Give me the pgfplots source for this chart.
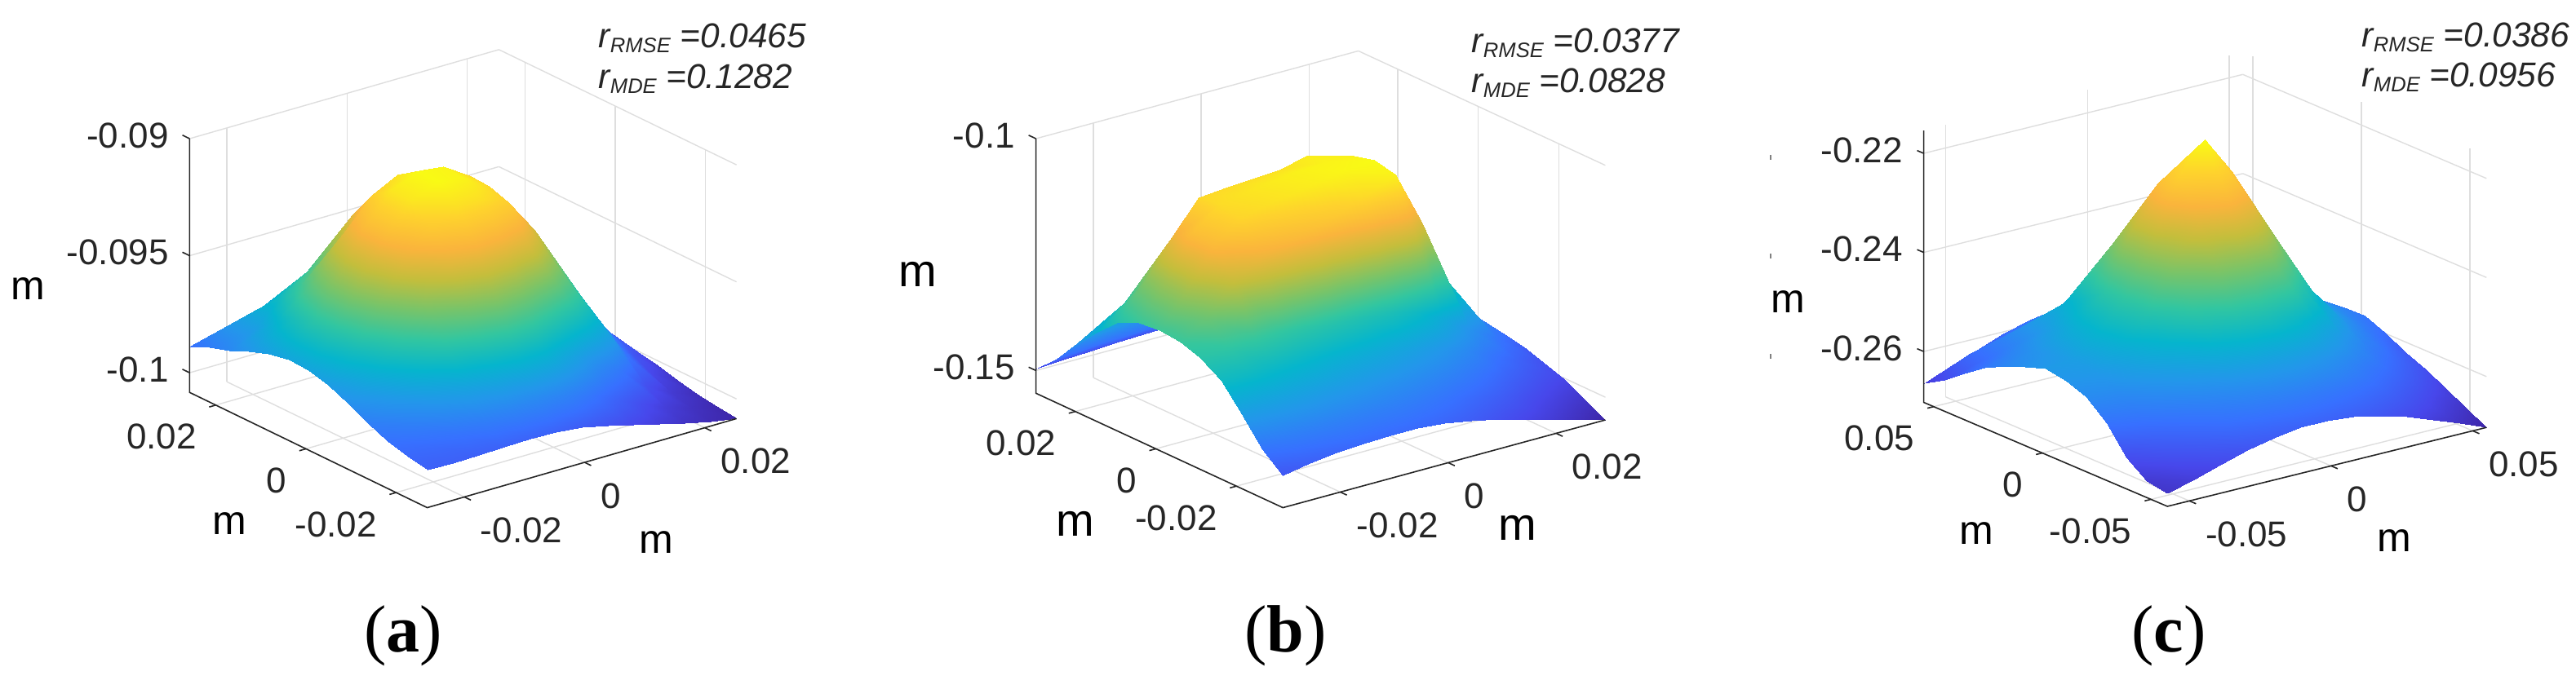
\documentclass[border=0pt]{standalone}
\usepackage{fontspec}
\setmainfont{Liberation Sans}
\newfontfamily\capfont{Liberation Serif}
\usepackage{pgfplots}
\pgfplotsset{compat=1.18}
\definecolor{tk}{HTML}{262626}
\pgfplotsset{
 panel/.style={
  colormap={par}{rgb255=(62,38,168) rgb255=(71,71,235) rgb255=(55,112,255) rgb255=(35,150,235) rgb255=(5,181,205) rgb255=(50,198,160) rgb255=(120,196,105) rgb255=(195,190,60) rgb255=(250,180,60) rgb255=(254,210,45) rgb255=(249,251,20)},
  clip=false, grid=major, major grid style={black!13,line width=.35pt},
  axis line style={draw=none}, tick style={draw=none}, major tick length=2pt, tick pos=left,
  xticklabel style={anchor=west,xshift=4.75pt,yshift=-10.25pt,inner sep=0pt,font=\fontsize{11}{12}\selectfont,text=tk},
  yticklabel style={anchor=east,xshift=-5.75pt,yshift=-9.75pt,inner sep=0pt,font=\fontsize{11}{12}\selectfont,text=tk},
  zticklabel style={anchor=east,xshift=-6.25pt,yshift=1pt,inner sep=0pt,font=\fontsize{11}{12}\selectfont,text=tk},
  scaled ticks=false,
 },
 srf/.style={surf,shader=interp,mesh/rows=13,mesh/cols=13,z buffer=reverse x seq},
}
\tikzset{
 rt/.style={anchor=base west,inner sep=0pt,font=\fontsize{10.6}{12}\selectfont\itshape},
 mt/.style={anchor=base,inner sep=0pt,text=black,font=\fontsize{12.5}{13}\selectfont},
 ct/.style={inner sep=0pt,text=black,font=\capfont\fontsize{20.5}{22}\selectfont},
 ax/.style={tk,line width=.4pt},
}
\newcommand\sub[1]{\raisebox{-1.5pt}{\fontsize{6.4}{7}\selectfont #1}}
\begin{document}
\begin{tikzpicture}
\useasboundingbox (0,0) rectangle (789.25pt,-211.25pt);
%% a
\begin{axis}[panel,at={(58.1pt,-155.65pt)},anchor=south west,
 x={(1841.5pt,530.6pt)},y={(-1381.3pt,670.5pt)},z={(0pt,7177.4pt)},
 xmin=-0.02618,xmax=0.02528,ymin=-0.0269,ymax=0.0258,zmin=-0.10084,zmax=-0.09,
 xtick={-0.02,0,0.02},ytick={-0.02,0,0.02},ztick={-0.1,-0.095,-0.09},
 xticklabels={-0.02,0,0.02},yticklabels={-0.02,0,0.02},zticklabels={-0.1,-0.095,-0.09}]
\addplot3[srf] table {
-0.02618 0.0258 -0.09887
-0.02189 0.0258 -0.09869
-0.01760 0.0258 -0.09840
-0.01332 0.0258 -0.09813
-0.00903 0.0258 -0.09792
-0.00474 0.0258 -0.09783
-0.00045 0.0258 -0.09795
0.00384 0.0258 -0.09829
0.00812 0.0258 -0.09876
0.01241 0.0258 -0.09928
0.01670 0.0258 -0.09973
0.02099 0.0258 -0.10005
0.02528 0.0258 -0.10032
-0.02618 0.02141 -0.09851
-0.02189 0.02141 -0.09770
-0.01760 0.02141 -0.09743
-0.01332 0.02141 -0.09713
-0.00903 0.02141 -0.09664
-0.00474 0.02141 -0.09639
-0.00045 0.02141 -0.09652
0.00384 0.02141 -0.09702
0.00812 0.02141 -0.09776
0.01241 0.02141 -0.09858
0.01670 0.02141 -0.09932
0.02099 0.02141 -0.09989
0.02528 0.02141 -0.10025
-0.02618 0.01702 -0.09822
-0.02189 0.01702 -0.09761
-0.01760 0.01702 -0.09654
-0.01332 0.01702 -0.09580
-0.00903 0.01702 -0.09498
-0.00474 0.01702 -0.09456
-0.00045 0.01702 -0.09469
0.00384 0.01702 -0.09534
0.00812 0.01702 -0.09641
0.01241 0.01702 -0.09761
0.01670 0.01702 -0.09872
0.02099 0.01702 -0.09960
0.02528 0.01702 -0.10014
-0.02618 0.01262 -0.09786
-0.02189 0.01262 -0.09695
-0.01760 0.01262 -0.09571
-0.01332 0.01262 -0.09474
-0.00903 0.01262 -0.09329
-0.00474 0.01262 -0.09277
-0.00045 0.01262 -0.09290
0.00384 0.01262 -0.09365
0.00812 0.01262 -0.09494
0.01241 0.01262 -0.09648
0.01670 0.01262 -0.09806
0.02099 0.01262 -0.09924
0.02528 0.01262 -0.10002
-0.02618 0.00823 -0.09756
-0.02189 0.00823 -0.09638
-0.01760 0.00823 -0.09480
-0.01332 0.00823 -0.09320
-0.00903 0.00823 -0.09202
-0.00474 0.00823 -0.09148
-0.00045 0.00823 -0.09159
0.00384 0.00823 -0.09245
0.00812 0.00823 -0.09378
0.01241 0.00823 -0.09562
0.01670 0.00823 -0.09747
0.02099 0.00823 -0.09890
0.02528 0.00823 -0.09989
-0.02618 0.00384 -0.09738
-0.02189 0.00384 -0.09603
-0.01760 0.00384 -0.09430
-0.01332 0.00384 -0.09259
-0.00903 0.00384 -0.09139
-0.00474 0.00384 -0.09092
-0.00045 0.00384 -0.09105
0.00384 0.00384 -0.09175
0.00812 0.00384 -0.09317
0.01241 0.00384 -0.09510
0.01670 0.00384 -0.09711
0.02099 0.00384 -0.09872
0.02528 0.00384 -0.09982
-0.02618 -0.00055 -0.09742
-0.02189 -0.00055 -0.09605
-0.01760 -0.00055 -0.09431
-0.01332 -0.00055 -0.09261
-0.00903 -0.00055 -0.09141
-0.00474 -0.00055 -0.09094
-0.00045 -0.00055 -0.09109
0.00384 -0.00055 -0.09177
0.00812 -0.00055 -0.09320
0.01241 -0.00055 -0.09514
0.01670 -0.00055 -0.09713
0.02099 -0.00055 -0.09876
0.02528 -0.00055 -0.09985
-0.02618 -0.00494 -0.09765
-0.02189 -0.00494 -0.09647
-0.01760 -0.00494 -0.09487
-0.01332 -0.00494 -0.09327
-0.00903 -0.00494 -0.09218
-0.00474 -0.00494 -0.09157
-0.00045 -0.00494 -0.09161
0.00384 -0.00494 -0.09205
0.00812 -0.00494 -0.09358
0.01241 -0.00494 -0.09569
0.01670 -0.00494 -0.09756
0.02099 -0.00494 -0.09899
0.02528 -0.00494 -0.10002
-0.02618 -0.00934 -0.09802
-0.02189 -0.00934 -0.09711
-0.01760 -0.00934 -0.09586
-0.01332 -0.00934 -0.09447
-0.00903 -0.00934 -0.09342
-0.00474 -0.00934 -0.09290
-0.00045 -0.00934 -0.09302
0.00384 -0.00934 -0.09349
0.00812 -0.00934 -0.09456
0.01241 -0.00934 -0.09627
0.01670 -0.00934 -0.09820
0.02099 -0.00934 -0.09941
0.02528 -0.00934 -0.10019
-0.02618 -0.01373 -0.09846
-0.02189 -0.01373 -0.09785
-0.01760 -0.01373 -0.09697
-0.01332 -0.01373 -0.09593
-0.00903 -0.01373 -0.09517
-0.00474 -0.01373 -0.09474
-0.00045 -0.01373 -0.09487
0.00384 -0.01373 -0.09551
0.00812 -0.01373 -0.09609
0.01241 -0.01373 -0.09699
0.01670 -0.01373 -0.09869
0.02099 -0.01373 -0.09984
0.02528 -0.01373 -0.10041
-0.02618 -0.01812 -0.09881
-0.02189 -0.01812 -0.09849
-0.01760 -0.01812 -0.09799
-0.01332 -0.01812 -0.09743
-0.00903 -0.01812 -0.09693
-0.00474 -0.01812 -0.09666
-0.00045 -0.01812 -0.09677
0.00384 -0.01812 -0.09729
0.00812 -0.01812 -0.09802
0.01241 -0.01812 -0.09860
0.01670 -0.01812 -0.09962
0.02099 -0.01812 -0.10021
0.02528 -0.01812 -0.10059
-0.02618 -0.02251 -0.09905
-0.02189 -0.02251 -0.09898
-0.01760 -0.02251 -0.09878
-0.01332 -0.02251 -0.09851
-0.00903 -0.02251 -0.09828
-0.00474 -0.02251 -0.09819
-0.00045 -0.02251 -0.09831
0.00384 -0.02251 -0.09863
0.00812 -0.02251 -0.09914
0.01241 -0.02251 -0.09966
0.01670 -0.02251 -0.10012
0.02099 -0.02251 -0.10046
0.02528 -0.02251 -0.10073
-0.02618 -0.0269 -0.09923
-0.02189 -0.0269 -0.09924
-0.01760 -0.0269 -0.09923
-0.01332 -0.0269 -0.09919
-0.00903 -0.0269 -0.09917
-0.00474 -0.0269 -0.09919
-0.00045 -0.0269 -0.09932
0.00384 -0.0269 -0.09955
0.00812 -0.0269 -0.09982
0.01241 -0.0269 -0.10012
0.01670 -0.0269 -0.10041
0.02099 -0.0269 -0.10064
0.02528 -0.0269 -0.10084
};
\draw[ax] (axis cs:-0.02618,0.0258,-0.09)--(axis cs:-0.02618,0.0258,-0.10084)--(axis cs:-0.02618,-0.0269,-0.10084)--(axis cs:0.02528,-0.0269,-0.10084);
\draw[ax] (axis cs:-0.02,-0.0269,-0.10084)--(axis cs:-0.02,-0.02835,-0.10084);
\draw[ax] (axis cs:0,-0.0269,-0.10084)--(axis cs:0,-0.02835,-0.10084);
\draw[ax] (axis cs:0.02,-0.0269,-0.10084)--(axis cs:0.02,-0.02835,-0.10084);
\draw[ax] (axis cs:-0.02618,-0.02,-0.10084)--(axis cs:-0.02728,-0.02,-0.10084);
\draw[ax] (axis cs:-0.02618,0,-0.10084)--(axis cs:-0.02728,0,-0.10084);
\draw[ax] (axis cs:-0.02618,0.02,-0.10084)--(axis cs:-0.02728,0.02,-0.10084);
\draw[ax] (axis cs:-0.02618,0.0258,-0.1)--(axis cs:-0.02618,0.0274,-0.1);
\draw[ax] (axis cs:-0.02618,0.0258,-0.095)--(axis cs:-0.02618,0.0274,-0.095);
\draw[ax] (axis cs:-0.02618,0.0258,-0.09)--(axis cs:-0.02618,0.0274,-0.09);
\end{axis}
%% b
\begin{axis}[panel,at={(317.4pt,-155.65pt)},anchor=south west,
 x={(1653.3pt,450.2pt)},y={(-1234.5pt,572.2pt)},z={(0pt,1422pt)},
 xmin=-0.03063,xmax=0.02912,ymin=-0.03154,ymax=0.02976,zmin=-0.1549,zmax=-0.1,
 xtick={-0.02,0,0.02},ytick={-0.02,0,0.02},ztick={-0.15,-0.1},
 xticklabels={-0.02,0,0.02},yticklabels={-0.02,0,0.02},zticklabels={-0.15,-0.1}]
\addplot3[srf] table {
-0.03063 0.02976 -0.14951
-0.02565 0.02976 -0.14923
-0.02067 0.02976 -0.14904
-0.01569 0.02976 -0.14876
-0.01071 0.02976 -0.14857
-0.00574 0.02976 -0.14828
-0.00076 0.02976 -0.14809
0.00422 0.02976 -0.14809
0.00920 0.02976 -0.14828
0.01418 0.02976 -0.14876
0.01916 0.02976 -0.14942
0.02414 0.02976 -0.15017
0.02912 0.02976 -0.15112
-0.03063 0.02465 -0.14545
-0.02565 0.02465 -0.14498
-0.02067 0.02465 -0.14450
-0.01569 0.02465 -0.14431
-0.01071 0.02465 -0.14403
-0.00574 0.02465 -0.14403
-0.00076 0.02465 -0.14403
0.00422 0.02465 -0.14431
0.00920 0.02465 -0.14469
0.01418 0.02465 -0.14592
0.01916 0.02465 -0.14734
0.02414 0.02465 -0.14847
0.02912 0.02465 -0.14970
-0.03063 0.01954 -0.13997
-0.02565 0.01954 -0.13836
-0.02067 0.01954 -0.13741
-0.01569 0.01954 -0.13647
-0.01071 0.01954 -0.13619
-0.00574 0.01954 -0.13600
-0.00076 0.01954 -0.13600
0.00422 0.01954 -0.13647
0.00920 0.01954 -0.13741
0.01418 0.01954 -0.14025
0.01916 0.01954 -0.14356
0.02414 0.01954 -0.14592
0.02912 0.01954 -0.14828
-0.03063 0.01444 -0.13543
-0.02565 0.01444 -0.13080
-0.02067 0.01444 -0.12560
-0.01569 0.01444 -0.12418
-0.01071 0.01444 -0.12324
-0.00574 0.01444 -0.12276
-0.00076 0.01444 -0.12229
0.00422 0.01444 -0.12276
0.00920 0.01444 -0.12418
0.01418 0.01444 -0.13032
0.01916 0.01444 -0.13741
0.02414 0.01444 -0.14308
0.02912 0.01444 -0.14734
-0.03063 0.00933 -0.13127
-0.02565 0.00933 -0.12418
-0.02067 0.00933 -0.11615
-0.01569 0.00933 -0.10915
-0.01071 0.00933 -0.10868
-0.00574 0.00933 -0.10830
-0.00076 0.00933 -0.10792
0.00422 0.00933 -0.10651
0.00920 0.00933 -0.10802
0.01418 0.00933 -0.12040
0.01916 0.00933 -0.13127
0.02414 0.00933 -0.14025
0.02912 0.00933 -0.14639
-0.03063 0.00422 -0.12938
-0.02565 0.00422 -0.12229
-0.02067 0.00422 -0.11284
-0.01569 0.00422 -0.10859
-0.01071 0.00422 -0.10764
-0.00574 0.00422 -0.10669
-0.00076 0.00422 -0.10594
0.00422 0.00422 -0.10575
0.00920 0.00422 -0.10594
0.01418 0.00422 -0.11756
0.01916 0.00422 -0.13032
0.02414 0.00422 -0.13978
0.02912 0.00422 -0.14592
-0.03063 -0.00089 -0.12891
-0.02565 -0.00089 -0.12229
-0.02067 -0.00089 -0.11378
-0.01569 -0.00089 -0.10953
-0.01071 -0.00089 -0.10811
-0.00574 -0.00089 -0.10717
-0.00076 -0.00089 -0.10622
0.00422 -0.00089 -0.10528
0.00920 -0.00089 -0.10480
0.01418 -0.00089 -0.11709
0.01916 -0.00089 -0.13080
0.02414 -0.00089 -0.14025
0.02912 -0.00089 -0.14592
-0.03063 -0.00600 -0.12938
-0.02565 -0.00600 -0.12560
-0.02067 -0.00600 -0.11945
-0.01569 -0.00600 -0.11615
-0.01071 -0.00600 -0.11426
-0.00574 -0.00600 -0.11284
-0.00076 -0.00600 -0.11095
0.00422 -0.00600 -0.10859
0.00920 -0.00600 -0.10603
0.01418 -0.00600 -0.11804
0.01916 -0.00600 -0.13222
0.02414 -0.00600 -0.14119
0.02912 -0.00600 -0.14639
-0.03063 -0.01110 -0.13080
-0.02565 -0.01110 -0.12985
-0.02067 -0.01110 -0.12938
-0.01569 -0.01110 -0.12985
-0.01071 -0.01110 -0.13051
-0.00574 -0.01110 -0.13127
-0.00076 -0.01110 -0.13174
0.00422 -0.01110 -0.13222
0.00920 -0.01110 -0.13363
0.01418 -0.01110 -0.13647
0.01916 -0.01110 -0.14025
0.02414 -0.01110 -0.14403
0.02912 -0.01110 -0.14734
-0.03063 -0.01621 -0.13363
-0.02565 -0.01621 -0.13363
-0.02067 -0.01621 -0.13411
-0.01569 -0.01621 -0.13486
-0.01071 -0.01621 -0.13552
-0.00574 -0.01621 -0.13628
-0.00076 -0.01621 -0.13694
0.00422 -0.01621 -0.13789
0.00920 -0.01621 -0.13930
0.01418 -0.01621 -0.14119
0.01916 -0.01621 -0.14403
0.02414 -0.01621 -0.14639
0.02912 -0.01621 -0.14876
-0.03063 -0.02132 -0.13883
-0.02565 -0.02132 -0.13836
-0.02067 -0.02132 -0.13836
-0.01569 -0.02132 -0.13883
-0.01071 -0.02132 -0.13930
-0.00574 -0.02132 -0.13978
-0.00076 -0.02132 -0.14053
0.00422 -0.02132 -0.14148
0.00920 -0.02132 -0.14280
0.01418 -0.02132 -0.14450
0.01916 -0.02132 -0.14658
0.02414 -0.02132 -0.14847
0.02912 -0.02132 -0.15017
-0.03063 -0.02643 -0.14431
-0.02565 -0.02643 -0.14308
-0.02067 -0.02643 -0.14261
-0.01569 -0.02643 -0.14261
-0.01071 -0.02643 -0.14280
-0.00574 -0.02643 -0.14308
-0.00076 -0.02643 -0.14375
0.00422 -0.02643 -0.14469
0.00920 -0.02643 -0.14592
0.01418 -0.02643 -0.14734
0.01916 -0.02643 -0.14923
0.02414 -0.02643 -0.15093
0.02912 -0.02643 -0.15254
-0.03063 -0.03154 -0.14800
-0.02565 -0.03154 -0.14687
-0.02067 -0.03154 -0.14620
-0.01569 -0.03154 -0.14573
-0.01071 -0.03154 -0.14564
-0.00574 -0.03154 -0.14564
-0.00076 -0.03154 -0.14620
0.00422 -0.03154 -0.14715
0.00920 -0.03154 -0.14847
0.01418 -0.03154 -0.14998
0.01916 -0.03154 -0.15150
0.02414 -0.03154 -0.15320
0.02912 -0.03154 -0.15490
};
\draw[ax] (axis cs:-0.03063,0.02976,-0.1)--(axis cs:-0.03063,0.02976,-0.1549)--(axis cs:-0.03063,-0.03154,-0.1549)--(axis cs:0.02912,-0.03154,-0.1549);
\draw[ax] (axis cs:-0.02,-0.03154,-0.1549)--(axis cs:-0.02,-0.03316,-0.1549);
\draw[ax] (axis cs:0,-0.03154,-0.1549)--(axis cs:0,-0.03316,-0.1549);
\draw[ax] (axis cs:0.02,-0.03154,-0.1549)--(axis cs:0.02,-0.03316,-0.1549);
\draw[ax] (axis cs:-0.03063,-0.02,-0.1549)--(axis cs:-0.03184,-0.02,-0.1549);
\draw[ax] (axis cs:-0.03063,0,-0.1549)--(axis cs:-0.03184,0,-0.1549);
\draw[ax] (axis cs:-0.03063,0.02,-0.1549)--(axis cs:-0.03184,0.02,-0.1549);
\draw[ax] (axis cs:-0.03063,0.02976,-0.15)--(axis cs:-0.03063,0.03158,-0.15);
\draw[ax] (axis cs:-0.03063,0.02976,-0.1)--(axis cs:-0.03063,0.03158,-0.1);
\end{axis}
%% c
\begin{axis}[panel,at={(589.4pt,-155.25pt)},anchor=south west,
 x={(868pt,214.9pt)},y={(-665.8pt,284.2pt)},z={(0pt,1518.8pt)},
 xmin=-0.05777,xmax=0.05485,ymin=-0.05757,ymax=0.05456,zmin=-0.27027,zmax=-0.2154,
 xtick={-0.05,0,0.05},ytick={-0.05,0,0.05},ztick={-0.26,-0.24,-0.22},
 xticklabels={-0.05,0,0.05},yticklabels={-0.05,0,0.05},zticklabels={-0.26,-0.24,-0.22}]
\addplot3[srf] table {
-0.05777 0.05456 -0.26646
-0.04839 0.05456 -0.26505
-0.03900 0.05456 -0.26230
-0.02962 0.05456 -0.26027
-0.02023 0.05456 -0.25894
-0.01085 0.05456 -0.25797
-0.00146 0.05456 -0.25770
0.00793 0.05456 -0.25806
0.01731 0.05456 -0.25894
0.02670 0.05456 -0.26045
0.03608 0.05456 -0.26230
0.04547 0.05456 -0.26434
0.05485 0.05456 -0.26602
-0.05777 0.04522 -0.26407
-0.04839 0.04522 -0.25983
-0.03900 0.04522 -0.25903
-0.02962 0.04522 -0.25726
-0.02023 0.04522 -0.25558
-0.01085 0.04522 -0.25452
-0.00146 0.04522 -0.25425
0.00793 0.04522 -0.25461
0.01731 0.04522 -0.25584
0.02670 0.04522 -0.25744
0.03608 0.04522 -0.25965
0.04547 0.04522 -0.26222
0.05485 0.04522 -0.26461
-0.05777 0.03587 -0.26098
-0.04839 0.03587 -0.25868
-0.03900 0.03587 -0.25452
-0.02962 0.03587 -0.25425
-0.02023 0.03587 -0.25160
-0.01085 0.03587 -0.24956
-0.00146 0.03587 -0.24894
0.00793 0.03587 -0.25000
0.01731 0.03587 -0.25213
0.02670 0.03587 -0.25469
0.03608 0.03587 -0.25726
0.04547 0.03587 -0.26009
0.05485 0.03587 -0.26310
-0.05777 0.02653 -0.25806
-0.04839 0.02653 -0.25620
-0.03900 0.02653 -0.25354
-0.02962 0.02653 -0.24885
-0.02023 0.02653 -0.24505
-0.01085 0.02653 -0.24292
-0.00146 0.02653 -0.24204
0.00793 0.02653 -0.24345
0.01731 0.02653 -0.24708
0.02670 0.02653 -0.25142
0.03608 0.02653 -0.25522
0.04547 0.02653 -0.25832
0.05485 0.02653 -0.26160
-0.05777 0.01719 -0.25593
-0.04839 0.01719 -0.25425
-0.03900 0.01719 -0.25107
-0.02962 0.01719 -0.24620
-0.02023 0.01719 -0.23691
-0.01085 0.01719 -0.23221
-0.00146 0.01719 -0.23266
0.00793 0.01719 -0.23549
0.01731 0.01719 -0.24142
0.02670 0.01719 -0.24779
0.03608 0.01719 -0.25345
0.04547 0.01719 -0.25611
0.05485 0.01719 -0.25921
-0.05777 0.00785 -0.25434
-0.04839 0.00785 -0.25301
-0.03900 0.00785 -0.24894
-0.02962 0.00785 -0.24319
-0.02023 0.00785 -0.23221
-0.01085 0.00785 -0.22381
-0.00146 0.00785 -0.22027
0.00793 0.00785 -0.22832
0.01731 0.00785 -0.23682
0.02670 0.00785 -0.24505
0.03608 0.00785 -0.25186
0.04547 0.00785 -0.25522
0.05485 0.00785 -0.25832
-0.05777 -0.00150 -0.25301
-0.04839 -0.00150 -0.25222
-0.03900 -0.00150 -0.24814
-0.02962 -0.00150 -0.24248
-0.02023 -0.00150 -0.23301
-0.01085 -0.00150 -0.22071
-0.00146 -0.00150 -0.21469
0.00793 -0.00150 -0.22248
0.01731 -0.00150 -0.23540
0.02670 -0.00150 -0.24434
0.03608 -0.00150 -0.25151
0.04547 -0.00150 -0.25522
0.05485 -0.00150 -0.25823
-0.05777 -0.01084 -0.25363
-0.04839 -0.01084 -0.25284
-0.03900 -0.01084 -0.24938
-0.02962 -0.01084 -0.24407
-0.02023 -0.01084 -0.23602
-0.01085 -0.01084 -0.22859
-0.00146 -0.01084 -0.22336
0.00793 -0.01084 -0.22726
0.01731 -0.01084 -0.23620
0.02670 -0.01084 -0.24602
0.03608 -0.01084 -0.25266
0.04547 -0.01084 -0.25655
0.05485 -0.01084 -0.25983
-0.05777 -0.02018 -0.25522
-0.04839 -0.02018 -0.25443
-0.03900 -0.02018 -0.25177
-0.02962 -0.02018 -0.24788
-0.02023 -0.02018 -0.24204
-0.01085 -0.02018 -0.23726
-0.00146 -0.02018 -0.23567
0.00793 -0.02018 -0.23664
0.01731 -0.02018 -0.24283
0.02670 -0.02018 -0.24974
0.03608 -0.02018 -0.25478
0.04547 -0.02018 -0.25850
0.05485 -0.02018 -0.26204
-0.05777 -0.02952 -0.25876
-0.04839 -0.02952 -0.25717
-0.03900 -0.02952 -0.25505
-0.02962 -0.02952 -0.25230
-0.02023 -0.02952 -0.24850
-0.01085 -0.02952 -0.24558
-0.00146 -0.02952 -0.24478
0.00793 -0.02952 -0.24637
0.01731 -0.02952 -0.24991
0.02670 -0.02952 -0.25381
0.03608 -0.02952 -0.25744
0.04547 -0.02952 -0.26045
0.05485 -0.02952 -0.26372
-0.05777 -0.03887 -0.26390
-0.04839 -0.03887 -0.26098
-0.03900 -0.03887 -0.25850
-0.02962 -0.03887 -0.25629
-0.02023 -0.03887 -0.25434
-0.01085 -0.03887 -0.25257
-0.00146 -0.03887 -0.25213
0.00793 -0.03887 -0.25310
0.01731 -0.03887 -0.25505
0.02670 -0.03887 -0.25761
0.03608 -0.03887 -0.26000
0.04547 -0.03887 -0.26284
0.05485 -0.03887 -0.26576
-0.05777 -0.04821 -0.26691
-0.04839 -0.04821 -0.26407
-0.03900 -0.04821 -0.26169
-0.02962 -0.04821 -0.25947
-0.02023 -0.04821 -0.25806
-0.01085 -0.04821 -0.25735
-0.00146 -0.04821 -0.25726
0.00793 -0.04821 -0.25779
0.01731 -0.04821 -0.25894
0.02670 -0.04821 -0.26071
0.03608 -0.04821 -0.26301
0.04547 -0.04821 -0.26558
0.05485 -0.04821 -0.26797
-0.05777 -0.05757 -0.26761
-0.04839 -0.05757 -0.26620
-0.03900 -0.05757 -0.26452
-0.02962 -0.05757 -0.26292
-0.02023 -0.05757 -0.26177
-0.01085 -0.05757 -0.26098
-0.00146 -0.05757 -0.26098
0.00793 -0.05757 -0.26151
0.01731 -0.05757 -0.26257
0.02670 -0.05757 -0.26416
0.03608 -0.05757 -0.26611
0.04547 -0.05757 -0.26806
0.05485 -0.05757 -0.27027
};
\draw[ax] (axis cs:-0.05777,0.05456,-0.2154)--(axis cs:-0.05777,0.05456,-0.27027)--(axis cs:-0.05777,-0.05757,-0.27027)--(axis cs:0.05485,-0.05757,-0.27027);
\draw[ax] (axis cs:-0.05,-0.05757,-0.27027)--(axis cs:-0.05,-0.0606,-0.27027);
\draw[ax] (axis cs:0,-0.05757,-0.27027)--(axis cs:0,-0.0606,-0.27027);
\draw[ax] (axis cs:0.05,-0.05757,-0.27027)--(axis cs:0.05,-0.0606,-0.27027);
\draw[ax] (axis cs:-0.05777,-0.05,-0.27027)--(axis cs:-0.06,-0.05,-0.27027);
\draw[ax] (axis cs:-0.05777,0,-0.27027)--(axis cs:-0.06,0,-0.27027);
\draw[ax] (axis cs:-0.05777,0.05,-0.27027)--(axis cs:-0.06,0.05,-0.27027);
\draw[ax] (axis cs:-0.05777,0.05456,-0.26)--(axis cs:-0.05777,0.0576,-0.26);
\draw[ax] (axis cs:-0.05777,0.05456,-0.24)--(axis cs:-0.05777,0.0576,-0.24);
\draw[ax] (axis cs:-0.05777,0.05456,-0.22)--(axis cs:-0.05777,0.0576,-0.22);
\end{axis}
\begin{scope}[x=.25pt,y=-.25pt,text=tk]
\node[rt] at (733,59) {r\sub{RMSE} =0.0465};
\node[rt] at (733,109) {r\sub{MDE} =0.1282};
\node[mt] at (34.8,368) {m};
\node[mt] at (281,655) {m};
\node[mt] at (804,678) {m};
\node[ct] at (494,780) {(\textbf{a})};
\node[rt] at (1803,64.5) {r\sub{RMSE} =0.0377};
\node[rt] at (1803,114) {r\sub{MDE} =0.0828};
\node[mt,font=\fontsize{14}{15}\selectfont] at (1125,352) {m};
\node[mt,font=\fontsize{14}{15}\selectfont] at (1318,657) {m};
\node[mt,font=\fontsize{14}{15}\selectfont] at (1860,662) {m};
\node[ct] at (1575.7,780) {(\textbf{b})};
\node[rt] at (2894,57.5) {r\sub{RMSE} =0.0386};
\node[rt] at (2894,106.5) {r\sub{MDE} =0.0956};
\node[mt] at (2191,383) {m};
\node[mt] at (2422,667) {m};
\node[mt] at (2934.6,676) {m};
\node[ct] at (2658,780) {(\textbf{c})};
\draw[gray,line width=.4pt] (2170,190)--(2170,196) (2170,311)--(2170,317) (2170,434)--(2170,440);
\end{scope}
\end{tikzpicture}
\end{document}
